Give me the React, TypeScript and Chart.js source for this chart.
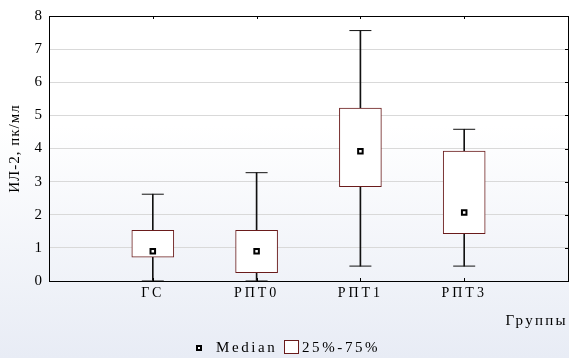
import React, { useEffect, useRef } from "react";
import { Chart, registerables } from "chart.js";

Chart.register(...registerables);

const categories = ["ГС", "РПТ0", "РПТ1", "РПТ3"];
const whiskerMin = [0, 0, 0.45, 0.45];
const q1 = [0.72, 0.25, 2.85, 1.43];
const medians = [0.9, 0.9, 3.92, 2.07];
const q3 = [1.53, 1.53, 5.22, 3.92];
const whiskerMax = [2.62, 3.27, 7.56, 4.58];
const yTicks = [0, 1, 2, 3, 4, 5, 6, 7, 8];

const yTitle = "ИЛ-2, пк/мл";
const xTitle = "Группы";
const legendMedian = "Median";
const legendBox = "25%-75%";

const FONT = '"Liberation Serif", "Times New Roman", serif';
const BOX_COLOR = "#6a1b1b";

function wrapSpacing(chart: any, scale: any, method: string, spacing: string) {
  if (!scale || scale["_ls_" + method]) return;
  const orig = scale[method].bind(scale);
  scale[method] = (...args: any[]) => {
    const ctx = chart.ctx;
    const prev = ctx.letterSpacing;
    ctx.letterSpacing = spacing;
    try {
      orig(...args);
    } finally {
      ctx.letterSpacing = prev || "0px";
    }
  };
  scale["_ls_" + method] = true;
}

export default function App() {
  const ref = useRef<HTMLCanvasElement | null>(null);

  useEffect(() => {
    const canvas = ref.current;
    if (!canvas) return;
    document.body.style.margin = "0";

    const pos = categories.map((_, i) => i + 1);

    const bgPlugin = {
      id: "bg",
      beforeDraw(chart: any) {
        const { ctx, width, height } = chart;
        ctx.save();
        const g = ctx.createLinearGradient(0, 0, 0, height);
        g.addColorStop(0, "#ffffff");
        g.addColorStop(0.35, "#ffffff");
        g.addColorStop(1, "#e8ecf5");
        ctx.fillStyle = g;
        ctx.fillRect(0, 0, width, height);
        ctx.restore();
      },
    };

    const spacingPlugin = {
      id: "spacing",
      afterLayout(chart: any) {
        wrapSpacing(chart, chart.scales.x, "drawLabels", "3px");
        wrapSpacing(chart, chart.scales.x, "drawTitle", "2.3px");
        wrapSpacing(chart, chart.scales.y, "drawTitle", "1px");
      },
    };

    const frameTicks = {
      id: "frameTicks",
      afterDatasetsDraw(chart: any) {
        const { ctx, chartArea } = chart;
        const xs = chart.scales.x;
        const ys = chart.scales.y;
        ctx.save();
        ctx.strokeStyle = "#000";
        ctx.lineWidth = 1;
        ctx.beginPath();
        pos.forEach((p) => {
          const x = Math.round(xs.getPixelForValue(p)) + 0.5;
          ctx.moveTo(x, chartArea.bottom);
          ctx.lineTo(x, chartArea.bottom - 3);
          ctx.moveTo(x, chartArea.top);
          ctx.lineTo(x, chartArea.top + 3);
        });
        yTicks.forEach((v) => {
          const y = Math.round(ys.getPixelForValue(v)) + 0.5;
          ctx.moveTo(chartArea.right, y);
          ctx.lineTo(chartArea.right - 3, y);
        });
        ctx.stroke();
        ctx.restore();
      },
    };

    const legendPlugin = {
      id: "customLegend",
      afterDraw(chart: any) {
        const { ctx } = chart;
        const cy = 348;
        ctx.save();
        ctx.fillStyle = "#fff";
        ctx.strokeStyle = "#000";
        ctx.lineWidth = 2;
        ctx.fillRect(197, cy - 2, 4, 4);
        ctx.strokeRect(197, cy - 2, 4, 4);
        ctx.font = `15px ${FONT}`;
        ctx.letterSpacing = "2.6px";
        ctx.fillStyle = "#000";
        ctx.textBaseline = "middle";
        ctx.textAlign = "left";
        ctx.fillText(legendMedian, 216, cy);
        ctx.lineWidth = 1;
        ctx.strokeStyle = BOX_COLOR;
        ctx.fillStyle = "#fff";
        ctx.fillRect(284.5, cy - 7.5, 14, 13);
        ctx.strokeRect(284.5, cy - 7.5, 14, 13);
        ctx.fillStyle = "#000";
        ctx.fillText(legendBox, 302, cy);
        ctx.letterSpacing = "0px";
        ctx.restore();
      },
    };

    const chart = new Chart(canvas, {
      type: "bar",
      data: {
        datasets: [
          {
            type: "bar",
            label: "whisker",
            data: pos.map((p, i) => ({ x: p, y: [whiskerMin[i], whiskerMax[i]] })) as any,
            backgroundColor: "#111",
            barThickness: 1,
            grouped: false,
            order: 4,
          } as any,
          {
            type: "bar",
            label: legendBox,
            data: pos.map((p, i) => ({ x: p, y: [q1[i], q3[i]] })) as any,
            backgroundColor: "#ffffff",
            borderColor: BOX_COLOR,
            borderWidth: 1,
            borderSkipped: false,
            barThickness: 42,
            grouped: false,
            order: 3,
          } as any,
          {
            type: "scatter",
            label: "caps",
            data: [
              ...pos.map((p, i) => ({ x: p, y: whiskerMin[i] })),
              ...pos.map((p, i) => ({ x: p, y: whiskerMax[i] })),
            ],
            pointStyle: "line",
            radius: 11,
            borderColor: "#111",
            borderWidth: 1,
            order: 2,
          } as any,
          {
            type: "scatter",
            label: legendMedian,
            data: pos.map((p, i) => ({ x: p, y: medians[i] })),
            pointStyle: "rect",
            radius: 3.2,
            backgroundColor: "#ffffff",
            borderColor: "#000",
            borderWidth: 2,
            order: 1,
          } as any,
        ],
      },
      options: {
        animation: false,
        responsive: false,
        maintainAspectRatio: false,
        events: [],
        layout: { autoPadding: false, padding: { top: 16, right: 1, bottom: 22, left: 0 } },
        plugins: {
          legend: { display: false },
          tooltip: { enabled: false },
        },
        scales: {
          x: {
            type: "linear",
            min: 0,
            max: 5,
            offset: false,
            afterFit(scale: any) {
              scale.height = 55;
              scale.paddingLeft = 0;
              scale.paddingRight = 0;
            },
            ticks: {
              stepSize: 1,
              autoSkip: false,
              maxRotation: 0,
              padding: 4,
              color: "#000",
              font: { family: FONT, size: 14 },
              callback: (v: any) => {
                const idx = Number(v) - 1;
                return idx >= 0 && idx < categories.length ? categories[idx] : "";
              },
            },
            grid: {
              offset: false,
              drawTicks: false,
              color: (c: any) => (c.tick && c.tick.value === 5 ? "#000" : "rgba(0,0,0,0)"),
            },
            border: { color: "#000", width: 1 },
            title: {
              display: true,
              text: xTitle,
              align: "end",
              color: "#000",
              font: { family: FONT, size: 15 },
              padding: { top: 0, bottom: 6 },
            },
          },
          y: {
            min: 0,
            max: 8,
            afterFit(scale: any) {
              scale.width = 49;
              scale.paddingTop = 0;
              scale.paddingBottom = 0;
            },
            ticks: {
              stepSize: 1,
              padding: 7,
              color: "#000",
              font: { family: FONT, size: 15 },
            },
            grid: {
              drawTicks: false,
              color: (c: any) => (c.tick && c.tick.value === 8 ? "#000" : "#d9d9d9"),
            },
            border: { color: "#000", width: 1 },
            title: {
              display: true,
              text: yTitle,
              color: "#000",
              font: { family: FONT, size: 15 },
              padding: { top: 6, bottom: 0 },
            },
          },
        },
      },
      plugins: [bgPlugin, spacingPlugin, frameTicks, legendPlugin],
    } as any);

    return () => chart.destroy();
  }, []);

  return (
    <div style={{ position: "fixed", left: 0, top: 0, width: 569, height: 358 }}>
      <canvas ref={ref} width={569} height={358} style={{ display: "block", width: 569, height: 358 }} />
    </div>
  );
}
